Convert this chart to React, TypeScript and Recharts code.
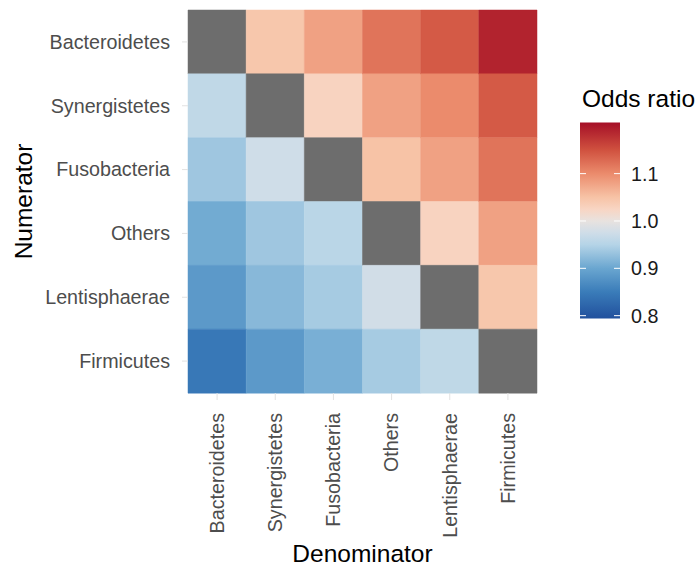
import React from 'react';
import { BarChart, Bar, XAxis, YAxis, Cell } from 'recharts';

// Taxa (rows = numerator top→bottom, columns = denominator left→right)
const numerators = ['Bacteroidetes', 'Synergistetes', 'Fusobacteria', 'Others', 'Lentisphaerae', 'Firmicutes'];
const denominators = ['Bacteroidetes', 'Synergistetes', 'Fusobacteria', 'Others', 'Lentisphaerae', 'Firmicutes'];

// Odds ratio per numerator row (null = same taxon, drawn grey)
const orBacteroidetes = [null, 1.045, 1.08, 1.12, 1.142, 1.19];
const orSynergistetes = [0.961, null, 1.028, 1.08, 1.1, 1.142];
const orFusobacteria = [0.935, 0.975, null, 1.05, 1.08, 1.12];
const orOthers = [0.905, 0.935, 0.955, null, 1.028, 1.08];
const orLentisphaerae = [0.885, 0.92, 0.94, 0.977, null, 1.045];
const orFirmicutes = [0.845, 0.885, 0.91, 0.94, 0.96, null];
const oddsRows = [orBacteroidetes, orSynergistetes, orFusobacteria, orOthers, orLentisphaerae, orFirmicutes];

// Colour scale
const scaleValues = [0.794, 0.85, 0.9, 0.95, 0.975, 1.0, 1.025, 1.05, 1.1, 1.15, 1.208];
const scaleColors = ['#21509d', '#3a7cb9', '#6aa6d0', '#b5d4e7', '#cfdde8', '#e8e2df', '#f8d5c3', '#f7c3a6', '#eb8b6c', '#d0513f', '#a50f27'];
const legendBreaks = [0.8, 0.9, 1.0, 1.1];
const naColor = '#6d6d6d';

const FONT = '"Liberation Sans", Arial, Helvetica, sans-serif';

function hexToRgb(h: string) {
  const n = parseInt(h.slice(1), 16);
  return [(n >> 16) & 255, (n >> 8) & 255, n & 255];
}
function colorFor(v: number | null) {
  if (v === null || v === undefined) return naColor;
  const vs = scaleValues;
  if (v <= vs[0]) return scaleColors[0];
  if (v >= vs[vs.length - 1]) return scaleColors[vs.length - 1];
  let i = 0;
  while (v > vs[i + 1]) i++;
  const t = (v - vs[i]) / (vs[i + 1] - vs[i]);
  const a = hexToRgb(scaleColors[i]);
  const b = hexToRgb(scaleColors[i + 1]);
  const c = a.map((x, k) => Math.round(x + (b[k] - x) * t));
  return `rgb(${c[0]},${c[1]},${c[2]})`;
}

const colKeys = denominators.map((_, j) => `c${j}`);
const rows = numerators.map((name, i) => {
  const r: any = { name };
  colKeys.forEach((k) => (r[k] = 1));
  return r;
});
const xTicks = denominators.map((_, j) => j + 0.5);

const XTick = (props: any) => {
  const { x, y, payload } = props;
  const label = denominators[Math.floor(payload.value)];
  return (
    <g transform={`translate(${x},${y})`}>
      <text transform="rotate(-90)" textAnchor="end" dy="0.35em" fill="#4d4d4d" fontSize={19.7} fontFamily={FONT}>
        {label}
      </text>
    </g>
  );
};

const YTick = (props: any) => {
  const { x, y, payload } = props;
  return (
    <text x={x} y={y} textAnchor="end" dy="0.35em" fill="#4d4d4d" fontSize={19.7} fontFamily={FONT}>
      {payload.value}
    </text>
  );
};

const gridColor = '#e2e2e2';

const Legend = () => {
  const top = 122.5;
  const bottom = 318.5;
  const vMin = scaleValues[0];
  const vMax = scaleValues[scaleValues.length - 1];
  const yOf = (v: number) => bottom - ((v - vMin) / (vMax - vMin)) * (bottom - top);
  return (
    <svg width={697} height={571} style={{ position: 'absolute', left: 0, top: 0, pointerEvents: 'none' }}>
      <defs>
        <linearGradient id="orGrad" x1="0" y1="1" x2="0" y2="0">
          {scaleValues.map((v, i) => (
            <stop key={i} offset={(v - vMin) / (vMax - vMin)} stopColor={scaleColors[i]} />
          ))}
        </linearGradient>
      </defs>
      <text x={582} y={107} fontSize={24.5} fontFamily={FONT} fill="#000">Odds ratio</text>
      <rect x={580} y={top} width={40} height={bottom - top} fill="url(#orGrad)" />
      {legendBreaks.map((b) => (
        <g key={b}>
          <line x1={580} x2={586} y1={yOf(b)} y2={yOf(b)} stroke="#fff" strokeWidth={1} />
          <line x1={614} x2={620} y1={yOf(b)} y2={yOf(b)} stroke="#fff" strokeWidth={1} />
          <text x={631} y={yOf(b)} dy="0.35em" fontSize={19.7} fontFamily={FONT} fill="#1a1a1a">
            {b.toFixed(1)}
          </text>
        </g>
      ))}
    </svg>
  );
};

export default function App() {
  return (
    <div style={{ position: 'absolute', left: 0, top: 0, width: 697, height: 571, background: '#fff' }}>
      <BarChart
        width={697}
        height={571}
        data={rows}
        layout="vertical"
        barCategoryGap={0}
        margin={{ top: 10, right: 160, bottom: 0, left: 0 }}
      >
        <XAxis
          type="number"
          domain={[0, 6]}
          ticks={xTicks}
          interval={0}
          height={178}
          axisLine={false}
          tickLine={{ stroke: gridColor }}
          tickSize={7}
          tickMargin={13}
          tick={<XTick />}
          label={{ value: 'Denominator', position: 'insideBottom', offset: 9, fontSize: 24.5, fontFamily: FONT, fill: '#000' }}
        />
        <XAxis
          xAxisId="top"
          orientation="top"
          type="number"
          domain={[0, 6]}
          ticks={xTicks}
          interval={0}
          height={0}
          axisLine={false}
          tickLine={{ stroke: gridColor }}
          tickSize={7}
          tick={false}
        />
        <YAxis
          type="category"
          dataKey="name"
          width={188}
          axisLine={false}
          tickLine={{ stroke: gridColor }}
          tickSize={6}
          tickMargin={12}
          interval={0}
          tick={<YTick />}
          label={{ value: 'Numerator', angle: -90, position: 'insideLeft', offset: 23, fontSize: 24.5, fontFamily: FONT, fill: '#000', style: { textAnchor: 'middle' } }}
        />
        <YAxis
          yAxisId="right"
          orientation="right"
          type="category"
          dataKey="name"
          width={0}
          axisLine={false}
          tickLine={{ stroke: gridColor }}
          tickSize={6}
          interval={0}
          tick={false}
        />
        {colKeys.map((k, j) => (
          <Bar key={k} dataKey={k} stackId="tiles" isAnimationActive={false}>
            {rows.map((_, i) => {
              const fill = colorFor(oddsRows[i][j]);
              return <Cell key={i} fill={fill} stroke={fill} strokeWidth={0.5} />;
            })}
          </Bar>
        ))}
      </BarChart>
      <Legend />
    </div>
  );
}
